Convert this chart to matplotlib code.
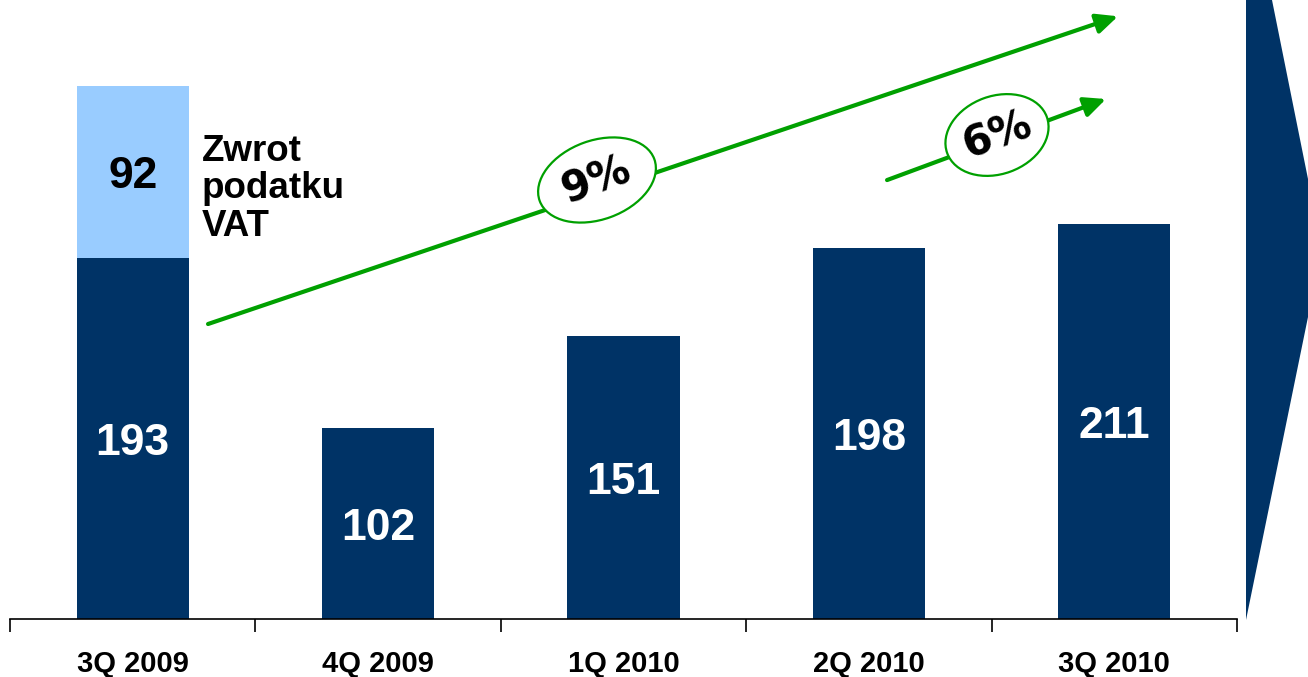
import matplotlib
matplotlib.use("Agg")
import matplotlib.pyplot as plt
from matplotlib.patches import Ellipse, Polygon

plt.rcParams['font.family'] = ['Liberation Sans', 'DejaVu Sans']

quarters = ["3Q 2009", "4Q 2009", "1Q 2010", "2Q 2010", "3Q 2010"]
base = [193, 102, 151, 198, 211]
vat_refund = [92, 0, 0, 0, 0]
vat_label = "Zwrot\npodatku\nVAT"
growth_labels = ["9%", "6%"]

navy = "#003366"
light = "#99ccff"
green = "#00a000"

fig = plt.figure(figsize=(13.08, 6.77), dpi=100)
ax = fig.add_axes([10 / 1308, 58 / 677, 1227 / 1308, 619 / 677])

x = list(range(len(quarters)))
ax.bar(x, base, width=0.457, color=navy)
ax.bar(x, vat_refund, bottom=base, width=0.457, color=light)

for i, v in enumerate(base):
    ax.annotate(str(v), (i, v / 2), xytext=(0, -3.5), textcoords="offset points",
                ha="center", va="center", color="white",
                fontsize=32, fontweight="bold")
for i, v in enumerate(vat_refund):
    if v:
        ax.annotate(str(v), (i, base[i] + v / 2), xytext=(0, -3.5),
                    textcoords="offset points", ha="center", va="center",
                    color="black", fontsize=32, fontweight="bold")
        ax.text(0.28, base[i] + v - 26, vat_label, ha="left", va="top",
                color="black", fontsize=26.5, fontweight="bold", linespacing=1.08)

ax.set_xlim(-0.5, 4.5)
ax.set_ylim(0, 330.7)
for s in ["top", "right", "left"]:
    ax.spines[s].set_visible(False)
ax.spines["bottom"].set_linewidth(1.2)
ax.set_yticks([])
ax.set_xticks(x)
ax.set_xticklabels(quarters, fontsize=21, fontweight="bold")
ax.tick_params(axis="x", which="major", length=0, pad=22)
ax.set_xticks([i - 0.5 for i in range(len(quarters) + 1)], minor=True)
ax.tick_params(axis="x", which="minor", length=9, width=1.2)

# growth arrows
arrow_kw = dict(arrowstyle="-|>,head_length=1.3,head_width=0.6", color=green,
                lw=3.0, shrinkA=0, shrinkB=0)
ax.annotate("", xy=(4.015, 322), xytext=(0.307, 157.6),
            arrowprops=arrow_kw, annotation_clip=False)
ax.annotate("", xy=(3.966, 277.8), xytext=(3.074, 234.5),
            arrowprops=arrow_kw, annotation_clip=False)

# ellipses with growth rates (in inches on the figure)
for (cx, cy, w, h), lab in zip([(5.97, 4.97, 1.22, 0.79), (9.97, 5.42, 1.06, 0.78)],
                               growth_labels):
    e = Ellipse((cx, cy), w, h, angle=20, facecolor="white", edgecolor=green,
                lw=1.6, transform=fig.dpi_scale_trans, zorder=5)
    fig.patches.append(e)
    fig.text(cx, cy, lab, transform=fig.dpi_scale_trans, ha="center", va="center",
             rotation=20, fontsize=30, fontweight="bold", family="DejaVu Sans",
             zorder=6)

# big arrow shape at the right
poly = Polygon([(12.46, 6.77), (12.72, 6.77), (13.08, 4.98), (13.08, 3.60), (12.46, 0.57)],
               closed=True, facecolor=navy, edgecolor="none",
               transform=fig.dpi_scale_trans)
fig.patches.append(poly)

fig.savefig("out.png", dpi=100)
